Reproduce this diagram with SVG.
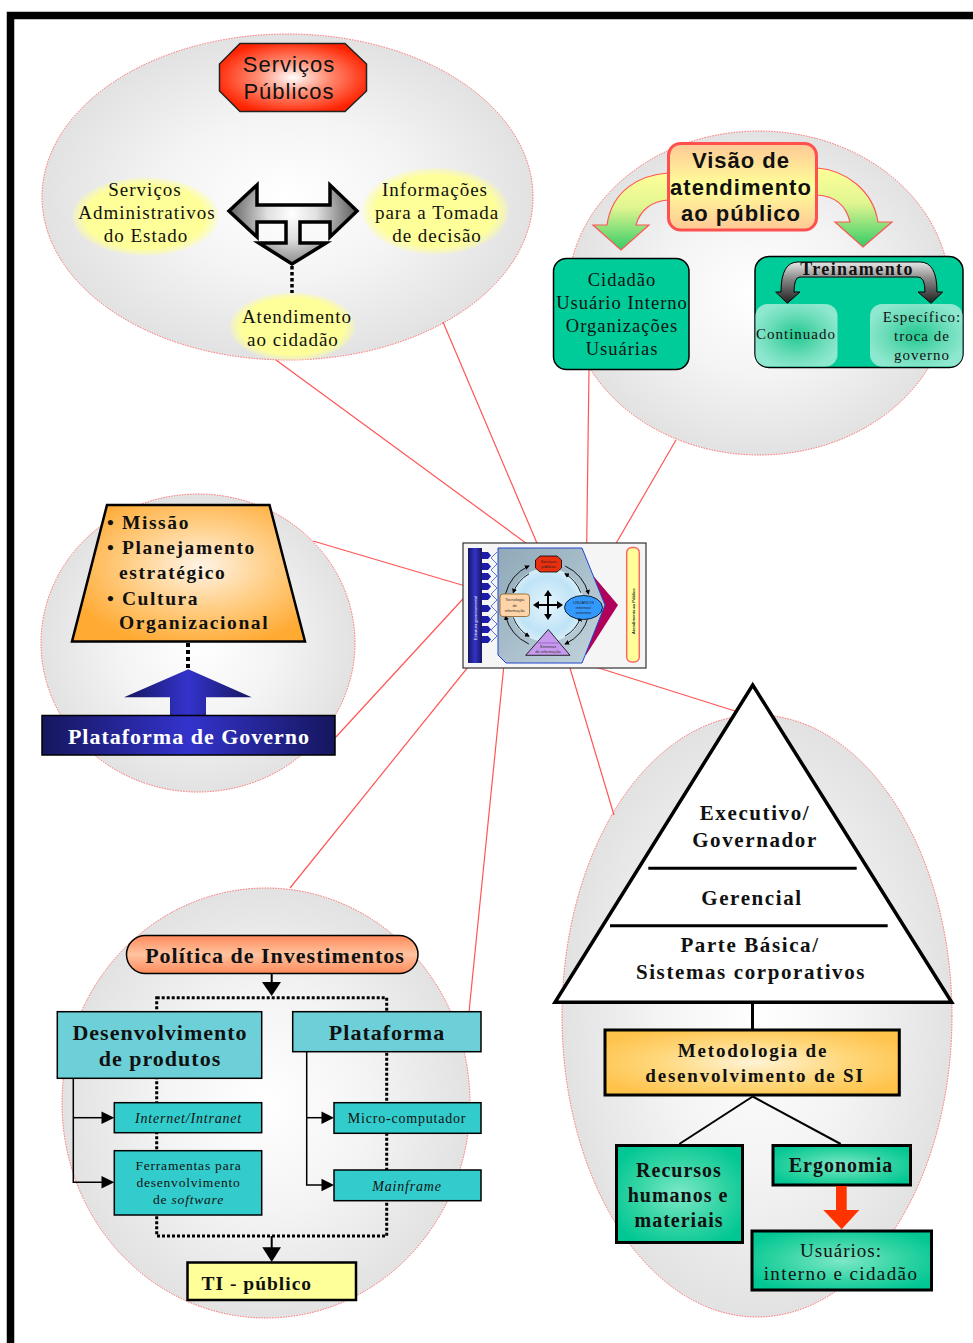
<svg xmlns="http://www.w3.org/2000/svg" width="973" height="1343" viewBox="0 0 973 1343">
  <defs>
    <radialGradient id="gBubble" cx="0.5" cy="0.5" r="0.5">
      <stop offset="0" stop-color="#ffffff"/>
      <stop offset="0.5" stop-color="#f4f4f4"/>
      <stop offset="1" stop-color="#e2e2e2"/>
    </radialGradient>
    <radialGradient id="gRedOct" cx="0.5" cy="0.5" r="0.55">
      <stop offset="0" stop-color="#ffffff"/>
      <stop offset="0.45" stop-color="#ff8a70"/>
      <stop offset="1" stop-color="#ff2200"/>
    </radialGradient>
    <radialGradient id="gYellowBlob" cx="0.5" cy="0.5" r="0.5">
      <stop offset="0" stop-color="#ffff99"/>
      <stop offset="0.82" stop-color="#ffff99"/>
      <stop offset="1" stop-color="#ffff99" stop-opacity="0.25"/>
    </radialGradient>
    <radialGradient id="gTArrow" cx="292" cy="214" r="70" gradientUnits="userSpaceOnUse">
      <stop offset="0" stop-color="#ffffff"/>
      <stop offset="0.35" stop-color="#e0e0e0"/>
      <stop offset="1" stop-color="#4a4a4a"/>
    </radialGradient>
    <linearGradient id="gVisao" x1="0" y1="0" x2="0" y2="1">
      <stop offset="0" stop-color="#ffc896"/>
      <stop offset="0.5" stop-color="#ffff99"/>
      <stop offset="1" stop-color="#ffc896"/>
    </linearGradient>
    <linearGradient id="gCurve" x1="0" y1="0" x2="0" y2="1">
      <stop offset="0" stop-color="#ffff99"/>
      <stop offset="0.45" stop-color="#e0f590"/>
      <stop offset="1" stop-color="#33cc66"/>
    </linearGradient>
    <linearGradient id="gDarkArc" x1="0" y1="0" x2="0" y2="1">
      <stop offset="0" stop-color="#e8e8e8"/>
      <stop offset="0.4" stop-color="#8a8a8a"/>
      <stop offset="1" stop-color="#1e1e1e"/>
    </linearGradient>
    <radialGradient id="gSoftTeal" cx="0.5" cy="0.5" r="0.55">
      <stop offset="0" stop-color="#22c990"/>
      <stop offset="0.6" stop-color="#6adcb8"/>
      <stop offset="1" stop-color="#8ee8cf"/>
    </radialGradient>
    <radialGradient id="gTrap" cx="0.55" cy="0.45" r="0.6">
      <stop offset="0" stop-color="#fff4e6"/>
      <stop offset="0.5" stop-color="#ffcf88"/>
      <stop offset="1" stop-color="#ffaa33"/>
    </radialGradient>
    <linearGradient id="gNavy" x1="0" y1="0" x2="1" y2="0">
      <stop offset="0" stop-color="#16165e"/>
      <stop offset="0.5" stop-color="#3333cc"/>
      <stop offset="1" stop-color="#16165e"/>
    </linearGradient>
    <linearGradient id="gPill" x1="0" y1="0" x2="0" y2="1">
      <stop offset="0" stop-color="#ff8a5a"/>
      <stop offset="0.5" stop-color="#ffc3a0"/>
      <stop offset="1" stop-color="#ff8a5a"/>
    </linearGradient>
    <radialGradient id="gMetod" cx="0.5" cy="0.5" r="0.6">
      <stop offset="0" stop-color="#fff3d6"/>
      <stop offset="0.55" stop-color="#ffd77a"/>
      <stop offset="1" stop-color="#ffc24a"/>
    </radialGradient>
    <radialGradient id="gGreenBox" cx="0.5" cy="0.5" r="0.6">
      <stop offset="0" stop-color="#7de8c8"/>
      <stop offset="0.6" stop-color="#2fd3a2"/>
      <stop offset="1" stop-color="#00c793"/>
    </radialGradient>
    <linearGradient id="gThumbBody" x1="0" y1="0" x2="1" y2="1">
      <stop offset="0" stop-color="#8fa9b8"/>
      <stop offset="1" stop-color="#c3d5de"/>
    </linearGradient>
    <radialGradient id="gThumbRing" cx="0.5" cy="0.5" r="0.5">
      <stop offset="0" stop-color="#e6f5fd"/>
      <stop offset="0.75" stop-color="#bfe3f6"/>
      <stop offset="1" stop-color="#d8eef9"/>
    </radialGradient>
    <marker id="mTiny" viewBox="0 0 10 10" refX="8" refY="5" markerWidth="5" markerHeight="5" markerUnits="userSpaceOnUse" orient="auto">
      <path d="M0,0 L10,5 L0,10 Z" fill="#000"/>
    </marker>
    <style>
      .bubble { fill: url(#gBubble); stroke: #ff6a6a; stroke-width: 1; stroke-dasharray: 1.5 1.2; }
      .link { stroke: #ff5555; stroke-width: 1.2; fill: none; }
      .serif { font-family: "Liberation Serif", "Times New Roman", serif; fill: #111; letter-spacing: 1px; }
      .sans { font-family: "Liberation Sans", Arial, sans-serif; fill: #111; letter-spacing: 1px; }
      .b { font-weight: bold; }
      .mid { text-anchor: middle; }
      .box { stroke: #000; }
      .dots { stroke: #000; fill: none; }
      .tree { stroke: #000; stroke-width: 1.5; fill: none; }
      .tiny { font-family: "Liberation Sans", Arial, sans-serif; font-size: 4px; }
    </style>
  </defs>

  <!-- page frame -->
  <path d="M10.5 1343 V15.5 H973" fill="none" stroke="#000" stroke-width="7.5"/>

  <!-- background bubbles for each theme -->
  <g id="bubbles">
    <ellipse class="bubble" cx="287.5" cy="197" rx="245.5" ry="163"/>
    <ellipse class="bubble" cx="759" cy="293" rx="191" ry="162"/>
    <ellipse class="bubble" cx="198" cy="643" rx="157" ry="149"/>
    <ellipse class="bubble" cx="266" cy="1103" rx="204" ry="215"/>
    <ellipse class="bubble" cx="757" cy="1016" rx="195" ry="301"/>
  </g>

  <!-- connectors from each bubble to the central model -->
  <g id="connectors">
    <line class="link" x1="276" y1="360" x2="545" y2="557"/>
    <line class="link" x1="443" y1="322" x2="542" y2="555"/>
    <line class="link" x1="589" y1="370" x2="586" y2="597"/>
    <line class="link" x1="676" y1="440" x2="585" y2="597"/>
    <line class="link" x1="313" y1="541" x2="472" y2="588"/>
    <line class="link" x1="335" y1="738" x2="473" y2="588"/>
    <line class="link" x1="290" y1="888" x2="510" y2="615"/>
    <line class="link" x1="469" y1="1012" x2="509" y2="615"/>
    <line class="link" x1="567" y1="658" x2="614" y2="815"/>
    <line class="link" x1="567" y1="658" x2="735" y2="711"/>
  </g>

  <!-- ===== Serviços Públicos ===== -->
  <g id="servicos-publicos">
    <polygon points="240,43.5 345,43.5 366.5,64 366.5,91 345,111.5 240,111.5 219.5,91 219.5,64" fill="url(#gRedOct)" stroke="#222" stroke-width="1.5"/>
    <text class="sans mid" font-size="22" x="289" y="72">Serviços</text>
    <text class="sans mid" font-size="22" x="289" y="99">Públicos</text>
  </g>
  <g id="servicos-administrativos">
    <ellipse cx="145.5" cy="216.5" rx="73" ry="39" fill="url(#gYellowBlob)"/>
    <text class="serif mid" font-size="19" x="145" y="196">Serviços</text>
    <text class="serif mid" font-size="19" x="147" y="219">Administrativos</text>
    <text class="serif mid" font-size="19" x="146" y="242">do Estado</text>
  </g>
  <g id="informacoes-decisao">
    <ellipse cx="435.5" cy="211" rx="73" ry="43" fill="url(#gYellowBlob)"/>
    <text class="serif mid" font-size="19" x="435" y="196">Informações</text>
    <text class="serif mid" font-size="19" x="437" y="219">para a Tomada</text>
    <text class="serif mid" font-size="19" x="437" y="242">de decisão</text>
  </g>
  <g id="atendimento-cidadao">
    <ellipse cx="292.5" cy="326.5" rx="62.5" ry="34" fill="url(#gYellowBlob)"/>
    <text class="serif mid" font-size="19" x="297" y="323">Atendimento</text>
    <text class="serif mid" font-size="19" x="293" y="346">ao cidadão</text>
  </g>
  <g id="servicos-setas">
    <polygon points="229,211 257,185 257,205 330,205 330,185 357,211 330,237 330,222 300,222 300,243 326,243 292,264 259,243 286,243 286,222 257,222 257,237" fill="url(#gTArrow)" stroke="#000" stroke-width="3.5" stroke-linejoin="miter"/>
    <line class="dots" x1="292" y1="266" x2="292" y2="293" stroke-width="3.5" stroke-dasharray="3.5 2.5"/>
  </g>

  <!-- ===== Visão de atendimento ao público ===== -->
  <g id="visao-setas">
    <path d="M668,173 C640,175 612,190 607,225 L593,225 L621,250 L649,225 L636,225 C640,210 652,201 668,200 Z" fill="url(#gCurve)" stroke="#ff5555" stroke-width="1.2"/>
    <path d="M817,168 C845,170 873,190 878,222 L892,222 L863,247 L835,222 L850,222 C846,205 834,196 817,195 Z" fill="url(#gCurve)" stroke="#ff5555" stroke-width="1.2"/>
  </g>
  <g id="visao-atendimento">
    <rect x="668.5" y="143.5" width="148" height="86.5" rx="12" fill="url(#gVisao)" stroke="#ff5050" stroke-width="3"/>
    <text class="sans b mid" font-size="22" x="741" y="168">Visão de</text>
    <text class="sans b mid" font-size="22" x="741" y="194.5">atendimento</text>
    <text class="sans b mid" font-size="22" x="741" y="221">ao público</text>
  </g>
  <g id="cidadao-usuarios">
    <rect x="553.5" y="258.5" width="135.5" height="111" rx="13" fill="#00cc99" stroke="#000" stroke-width="1.5"/>
    <text class="serif mid" font-size="18.5" x="622" y="286">Cidadão</text>
    <text class="serif mid" font-size="18.5" x="622" y="309">Usuário Interno</text>
    <text class="serif mid" font-size="18.5" x="622" y="332">Organizações</text>
    <text class="serif mid" font-size="18.5" x="622" y="355">Usuárias</text>
  </g>
  <g id="treinamento">
    <rect x="755" y="256.5" width="208" height="111" rx="14" fill="#00cc99" stroke="#000" stroke-width="1.5"/>
    <rect x="755.5" y="304" width="82" height="62.5" rx="12" fill="url(#gSoftTeal)"/>
    <rect x="870" y="304" width="92.5" height="62.5" rx="12" fill="url(#gSoftTeal)"/>
    <path d="M798,262 H920 Q937,262 937,292 H942.7 L931,303.3 L918,292 H925 Q925,277 918,277 H800 Q794,277 794,292 H800 L787.3,303.3 L775.7,292 H781 Q781,262 798,262 Z" fill="url(#gDarkArc)" stroke="#000" stroke-width="1"/>
    <text class="serif b mid" font-size="18" x="857" y="275" style="letter-spacing:1.4px">Treinamento</text>
    <text class="serif mid" font-size="15" x="796" y="339">Continuado</text>
    <text class="serif mid" font-size="15" x="922" y="322">Específico:</text>
    <text class="serif mid" font-size="15" x="922" y="341">troca de</text>
    <text class="serif mid" font-size="15" x="922" y="360">governo</text>
  </g>

  <!-- ===== Missão / Plataforma de Governo ===== -->
  <g id="missao">
    <polygon points="107,505 269.5,505 305,641.5 72,641.5" fill="url(#gTrap)" stroke="#000" stroke-width="2.5"/>
    <g class="serif b" font-size="19.5" style="letter-spacing:1.6px">
      <text x="107" y="528.5">• Missão</text>
      <text x="107" y="554">• Planejamento</text>
      <text x="119" y="578.5">estratégico</text>
      <text x="107" y="605">• Cultura</text>
      <text x="119" y="628.5">Organizacional</text>
    </g>
    <line class="dots" x1="188" y1="643" x2="188" y2="669" stroke-width="4" stroke-dasharray="4 3"/>
  </g>
  <g id="plataforma-governo">
    <polygon points="188.3,669.3 251.7,697.3 206,697.3 206,716 170,716 170,697.3 124,697.3" fill="url(#gNavy)"/>
    <rect x="42" y="715.5" width="293" height="39.5" fill="url(#gNavy)" stroke="#000" stroke-width="1.5"/>
    <text class="serif b mid" font-size="22" x="189" y="744" style="fill:#ffffff">Plataforma de Governo</text>
  </g>

  <!-- ===== Política de Investimentos ===== -->
  <g id="politica-investimentos">
    <rect x="126.5" y="935.5" width="291.5" height="38" rx="19" fill="url(#gPill)" stroke="#000" stroke-width="1.5"/>
    <text class="serif b mid" font-size="22" x="275" y="963">Política de Investimentos</text>
  </g>
  <g id="politica-fluxo">
    <rect x="156.7" y="997.7" width="230" height="238.3" class="dots" stroke-width="3" stroke-dasharray="3 2"/>
    <line x1="271.7" y1="974" x2="271.7" y2="983" stroke="#000" stroke-width="2"/>
    <polygon points="262,982 281,982 271.7,996" fill="#000"/>
    <line x1="271.7" y1="1236" x2="271.7" y2="1248" stroke="#000" stroke-width="2"/>
    <polygon points="262.3,1247.3 281,1247.3 271.7,1262" fill="#000"/>
    <polyline class="tree" points="73.3,1078 73.3,1182.3 102,1182.3"/>
    <line class="tree" x1="73.3" y1="1117.7" x2="102" y2="1117.7"/>
    <polygon points="101.5,1111.5 114.3,1117.7 101.5,1124" fill="#000"/>
    <polygon points="101.5,1176 114.3,1182.3 101.5,1188.6" fill="#000"/>
    <polyline class="tree" points="306.7,1051.7 306.7,1185 322,1185"/>
    <line class="tree" x1="306.7" y1="1117.7" x2="322" y2="1117.7"/>
    <polygon points="321.5,1111.5 334,1117.7 321.5,1124" fill="#000"/>
    <polygon points="321.5,1178.7 334,1185 321.5,1191.3" fill="#000"/>
  </g>
  <g id="desenvolvimento-produtos">
    <rect x="57.3" y="1011.7" width="204.4" height="66.6" fill="#6dd0d8" class="box" stroke-width="1.5"/>
    <text class="serif b mid" font-size="22" x="160" y="1040">Desenvolvimento</text>
    <text class="serif b mid" font-size="22" x="160" y="1066">de produtos</text>
  </g>
  <g id="plataforma">
    <rect x="292.7" y="1011.7" width="188.3" height="40" fill="#6dd0d8" class="box" stroke-width="1.5"/>
    <text class="serif b mid" font-size="22" x="387" y="1040">Plataforma</text>
  </g>
  <g id="internet-intranet">
    <rect x="114.3" y="1102.7" width="147.4" height="30" fill="#33cccc" class="box" stroke-width="1.5"/>
    <text class="serif mid" font-size="14" font-style="italic" x="188.5" y="1123" style="letter-spacing:0.8px">Internet/Intranet</text>
  </g>
  <g id="ferramentas-software">
    <rect x="114.3" y="1150.7" width="147.4" height="64.3" fill="#33cccc" class="box" stroke-width="1.5"/>
    <text class="serif mid" font-size="13.5" x="188.5" y="1170" style="letter-spacing:0.8px">Ferramentas para</text>
    <text class="serif mid" font-size="13.5" x="188.5" y="1187" style="letter-spacing:0.8px">desenvolvimento</text>
    <text class="serif mid" font-size="13.5" x="188.5" y="1204" style="letter-spacing:0.8px">de <tspan font-style="italic">software</tspan></text>
  </g>
  <g id="micro-computador">
    <rect x="334" y="1102.7" width="147" height="30.6" fill="#33cccc" class="box" stroke-width="1.5"/>
    <text class="serif mid" font-size="14" x="407" y="1123" style="letter-spacing:0.8px">Micro-computador</text>
  </g>
  <g id="mainframe">
    <rect x="334" y="1170" width="147" height="30.7" fill="#33cccc" class="box" stroke-width="1.5"/>
    <text class="serif mid" font-size="14" font-style="italic" x="407" y="1191" style="letter-spacing:0.8px">Mainframe</text>
  </g>
  <g id="ti-publico">
    <rect x="187.5" y="1262.5" width="168.5" height="37.5" fill="#ffff99" class="box" stroke-width="2.5"/>
    <text class="serif b" font-size="19.5" x="201.5" y="1289.5">TI - público</text>
  </g>

  <!-- ===== Pirâmide organizacional ===== -->
  <g id="piramide">
    <polygon points="752.7,685 951.7,1002.3 555,1002.3" fill="#ffffff" stroke="#000" stroke-width="3.5" stroke-linejoin="miter"/>
    <line x1="648.3" y1="868.3" x2="856.7" y2="868.3" stroke="#000" stroke-width="3"/>
    <line x1="610" y1="925.7" x2="887.7" y2="925.7" stroke="#000" stroke-width="3"/>
    <g class="serif b" font-size="21" text-anchor="middle" style="letter-spacing:1.6px">
      <text x="755" y="820">Executivo/</text>
      <text x="755" y="847">Governador</text>
      <text x="752" y="904.5">Gerencial</text>
      <text x="750" y="952">Parte Básica/</text>
      <text x="751" y="978.5">Sistemas corporativos</text>
    </g>
    <line x1="752.5" y1="1002" x2="752.5" y2="1031" stroke="#000" stroke-width="3"/>
  </g>
  <g id="metodologia">
    <rect x="605" y="1030" width="294.3" height="65" fill="url(#gMetod)" class="box" stroke-width="3"/>
    <text class="serif b mid" font-size="19" x="753" y="1057" style="letter-spacing:1.8px">Metodologia de</text>
    <text class="serif b mid" font-size="19" x="755" y="1082" style="letter-spacing:1.8px">desenvolvimento de SI</text>
    <line x1="752.7" y1="1096.5" x2="679.3" y2="1144" stroke="#000" stroke-width="2"/>
    <line x1="752.7" y1="1096.5" x2="840.7" y2="1144" stroke="#000" stroke-width="2"/>
  </g>
  <g id="recursos">
    <rect x="616.5" y="1145.5" width="126" height="97" fill="url(#gGreenBox)" class="box" stroke-width="3"/>
    <text class="serif b mid" font-size="20" x="679" y="1176.5">Recursos</text>
    <text class="serif b mid" font-size="20" x="678" y="1202">humanos e</text>
    <text class="serif b mid" font-size="20" x="679" y="1227">materiais</text>
  </g>
  <g id="ergonomia">
    <rect x="773" y="1145.5" width="137.5" height="39.5" fill="url(#gGreenBox)" class="box" stroke-width="3"/>
    <text class="serif b mid" font-size="20" x="841" y="1172">Ergonomia</text>
    <polygon points="836,1186 846.7,1186 846.7,1210 859.3,1210 841.7,1229.3 823.3,1210 836,1210" fill="#ff3300"/>
  </g>
  <g id="usuarios">
    <rect x="752" y="1231" width="179.5" height="59" fill="url(#gGreenBox)" class="box" stroke-width="3"/>
    <text class="serif mid" font-size="19" x="841" y="1257">Usuários:</text>
    <text class="serif mid" font-size="19" x="841" y="1280" style="letter-spacing:1.4px">interno e cidadão</text>
  </g>

  <!-- ===== Central model thumbnail ===== -->
  <g id="modelo-central">
    <rect x="463" y="543" width="183" height="125" fill="#f5f5f5" stroke="#333" stroke-width="1.2"/>
    <rect x="468" y="548" width="14" height="115" fill="url(#gNavy)"/>
    <text class="tiny" fill="#ffffff" transform="translate(477,640) rotate(-90)">Estrutura governamental</text>
    <g fill="#1c1ca8">
      <polygon points="482,552 488,552 491,555.5 488,559 482,559"/>
      <polygon points="482,563 488,563 491,566.5 488,570 482,570"/>
      <polygon points="482,573 488,573 491,576.5 488,580 482,580"/>
      <polygon points="482,583 488,583 491,586.5 488,590 482,590"/>
      <polygon points="482,593 488,593 491,596.5 488,600 482,600"/>
      <polygon points="482,605 488,605 491,608.5 488,612 482,612"/>
      <polygon points="482,616 488,616 491,619.5 488,623 482,623"/>
      <polygon points="482,626 488,626 491,629.5 488,633 482,633"/>
      <polygon points="482,636 488,636 491,639.5 488,643 482,643"/>
    </g>
    <polygon points="590,572 618,605 586,655 583,640 604,605 583,578" fill="#b0005a"/>
    <polygon points="498,548 582,548 605,605 582,663 506,663 498,655" fill="url(#gThumbBody)" stroke="#2244cc" stroke-width="1"/>
    <polyline points="497,552 491,558 497,564 491,570 497,576 491,582 497,588 491,594 497,600 491,606 497,612 491,618 497,624 491,630 497,636 491,642" fill="none" stroke="#3355dd" stroke-width="0.8"/>
    <circle cx="547" cy="605" r="37" fill="url(#gThumbRing)"/>
    <g fill="none" stroke="#000" stroke-width="0.9">
      <path d="M505.5,593.9 A43,43 0 0 1 528.8,566" marker-end="url(#mTiny)"/>
      <path d="M529,573.8 A36,36 0 0 0 513.2,592.7" marker-end="url(#mTiny)"/>
      <path d="M565.2,566 A43,43 0 0 1 588.5,593.9" marker-end="url(#mTiny)"/>
      <path d="M580.8,592.7 A36,36 0 0 0 565,573.8" marker-end="url(#mTiny)"/>
      <path d="M588.5,616.1 A43,43 0 0 1 565.2,644" marker-end="url(#mTiny)"/>
      <path d="M565,636.2 A36,36 0 0 0 580.8,617.3" marker-end="url(#mTiny)"/>
      <path d="M528.8,644 A43,43 0 0 1 505.5,616.1" marker-end="url(#mTiny)"/>
      <path d="M513.2,617.3 A36,36 0 0 0 529,636.2" marker-end="url(#mTiny)"/>
    </g>
    <g fill="#000">
      <rect x="537" y="604" width="22" height="2"/>
      <rect x="547" y="594" width="2" height="22"/>
      <polygon points="548,590 544,596 552,596"/>
      <polygon points="548,620 544,614 552,614"/>
      <polygon points="533,605 539,601 539,609"/>
      <polygon points="563,605 557,601 557,609"/>
    </g>
    <polygon points="540,556 557,556 561.5,560 561.5,568 557,572 540,572 535.5,568 535.5,560" fill="#e83010" stroke="#000" stroke-width="0.8"/>
    <text class="tiny" x="548.5" y="563" text-anchor="middle" fill="#222">Serviços</text>
    <text class="tiny" x="548.5" y="568" text-anchor="middle" fill="#222">públicos</text>
    <rect x="500" y="594" width="29.5" height="22.5" rx="3" fill="#ffd4a8" stroke="#8a5a20" stroke-width="0.8"/>
    <text class="tiny" x="514.7" y="601" text-anchor="middle" fill="#333">Tecnologia</text>
    <text class="tiny" x="514.7" y="606.5" text-anchor="middle" fill="#333">de</text>
    <text class="tiny" x="514.7" y="612" text-anchor="middle" fill="#333">informação</text>
    <ellipse cx="583.5" cy="607.5" rx="19" ry="12" fill="#3399ff" stroke="#000" stroke-width="0.8"/>
    <text class="tiny" x="583.5" y="604" text-anchor="middle" fill="#222">USUÁRIOS</text>
    <text class="tiny" x="583.5" y="609" text-anchor="middle" fill="#222">internos/</text>
    <text class="tiny" x="583.5" y="614" text-anchor="middle" fill="#222">externos</text>
    <polygon points="548.3,629.5 570,655.3 525.7,655.3" fill="#c89aee" stroke="#000" stroke-width="0.8"/>
    <line x1="538" y1="643" x2="559" y2="643" stroke="#7a4ab0" stroke-width="0.6"/>
    <text class="tiny" x="548" y="648" text-anchor="middle" fill="#333">Sistemas</text>
    <text class="tiny" x="548" y="653" text-anchor="middle" fill="#333">de informação</text>
    <rect x="626.7" y="547.5" width="12.6" height="114.5" rx="5" fill="#ffff99" stroke="#ff6666" stroke-width="1.5"/>
    <text class="tiny" font-weight="bold" fill="#222" transform="translate(634.5,634) rotate(-90)">Atendimento ao Público</text>
  </g>
</svg>
